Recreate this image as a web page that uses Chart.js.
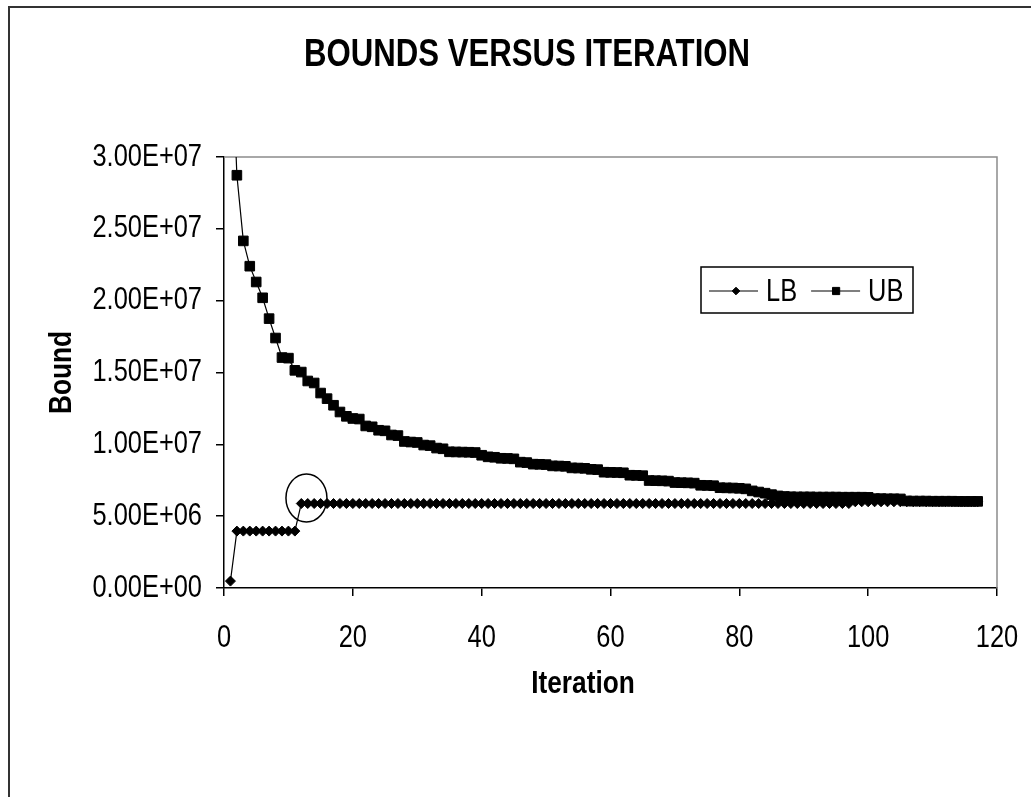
<!DOCTYPE html>
<html>
<head>
<meta charset="utf-8">
<title>Bounds versus iteration</title>
<script src="https://cdn.jsdelivr.net/npm/chart.js@4.4.1/dist/chart.umd.min.js"></script>
<style>
  html, body { margin: 0; padding: 0; background: #fff; overflow: hidden; }
  #frame { position: absolute; left: 8px; top: 6px; width: 1200px; height: 1000px;
           border-left: 2px solid #333; border-top: 2px solid #333; }
  #wrap { position: absolute; left: 0; top: 0; width: 1031px; height: 797px; }
</style>
</head>
<body>
<div id="frame"></div>
<div id="wrap"><canvas id="boundsChart" width="1031" height="797"></canvas></div>
<script>
// Lower / upper bound per iteration of the decomposition run.
const iterations = [
  1, 2, 3, 4, 5, 6, 7, 8, 9, 10,
  11, 12, 13, 14, 15, 16, 17, 18, 19, 20,
  21, 22, 23, 24, 25, 26, 27, 28, 29, 30,
  31, 32, 33, 34, 35, 36, 37, 38, 39, 40,
  41, 42, 43, 44, 45, 46, 47, 48, 49, 50,
  51, 52, 53, 54, 55, 56, 57, 58, 59, 60,
  61, 62, 63, 64, 65, 66, 67, 68, 69, 70,
  71, 72, 73, 74, 75, 76, 77, 78, 79, 80,
  81, 82, 83, 84, 85, 86, 87, 88, 89, 90,
  91, 92, 93, 94, 95, 96, 97, 98, 99, 100,
  101, 102, 103, 104, 105, 106, 107, 108, 109, 110,
  111, 112, 113, 114, 115, 116, 117
];

const lowerBound = [
  4.8e5, 3.96e6, 3.96e6, 3.96e6, 3.96e6, 3.96e6, 3.96e6, 3.96e6, 3.96e6, 3.96e6,
  3.96e6, 5.88e6, 5.88e6, 5.88e6, 5.88e6, 5.88e6, 5.88e6, 5.88e6, 5.88e6, 5.88e6,
  5.88e6, 5.88e6, 5.88e6, 5.88e6, 5.88e6, 5.88e6, 5.88e6, 5.88e6, 5.88e6, 5.88e6,
  5.88e6, 5.88e6, 5.88e6, 5.88e6, 5.88e6, 5.88e6, 5.88e6, 5.88e6, 5.88e6, 5.88e6,
  5.88e6, 5.88e6, 5.88e6, 5.88e6, 5.88e6, 5.88e6, 5.88e6, 5.88e6, 5.88e6, 5.88e6,
  5.88e6, 5.88e6, 5.88e6, 5.88e6, 5.88e6, 5.88e6, 5.88e6, 5.88e6, 5.88e6, 5.88e6,
  5.88e6, 5.88e6, 5.88e6, 5.88e6, 5.88e6, 5.88e6, 5.88e6, 5.88e6, 5.88e6, 5.88e6,
  5.88e6, 5.88e6, 5.88e6, 5.88e6, 5.88e6, 5.88e6, 5.88e6, 5.88e6, 5.88e6, 5.88e6,
  5.88e6, 5.88e6, 5.88e6, 5.88e6, 5.88e6, 5.88e6, 5.88e6, 5.88e6, 5.88e6, 5.88e6,
  5.88e6, 5.88e6, 5.88e6, 5.88e6, 5.88e6, 5.88e6, 5.88e6, 6.00e6, 6.00e6, 6.00e6,
  6.00e6, 6.00e6, 6.00e6, 6.00e6, 6.00e6, 6.00e6, 6.00e6, 6.00e6, 6.00e6, 6.00e6,
  6.00e6, 6.00e6, 6.00e6, 6.00e6, 6.00e6, 6.00e6, 6.00e6
];

const upperBound = [
  4.00e7, 2.873e7, 2.416e7, 2.240e7, 2.130e7, 2.020e7, 1.875e7, 1.740e7, 1.604e7, 1.600e7,
  1.515e7, 1.503e7, 1.441e7, 1.427e7, 1.357e7, 1.318e7, 1.272e7, 1.225e7, 1.195e7, 1.180e7,
  1.176e7, 1.128e7, 1.122e7, 1.098e7, 1.094e7, 1.065e7, 1.061e7, 1.020e7, 1.016e7, 1.013e7,
  9.95e6, 9.91e6, 9.74e6, 9.69e6, 9.48e6, 9.47e6, 9.46e6, 9.45e6, 9.43e6, 9.24e6,
  9.13e6, 9.10e6, 9.03e6, 9.02e6, 8.99e6, 8.76e6, 8.73e6, 8.62e6, 8.61e6, 8.59e6,
  8.50e6, 8.49e6, 8.47e6, 8.36e6, 8.35e6, 8.33e6, 8.26e6, 8.24e6, 8.06e6, 8.05e6,
  8.04e6, 8.02e6, 7.85e6, 7.84e6, 7.82e6, 7.48e6, 7.47e6, 7.46e6, 7.44e6, 7.34e6,
  7.33e6, 7.32e6, 7.30e6, 7.15e6, 7.14e6, 7.12e6, 6.98e6, 6.97e6, 6.96e6, 6.94e6,
  6.90e6, 6.76e6, 6.68e6, 6.60e6, 6.50e6, 6.41e6, 6.37e6, 6.35e6, 6.34e6, 6.34e6,
  6.34e6, 6.33e6, 6.33e6, 6.33e6, 6.33e6, 6.32e6, 6.32e6, 6.32e6, 6.32e6, 6.31e6,
  6.22e6, 6.22e6, 6.21e6, 6.21e6, 6.20e6, 6.06e6, 6.05e6, 6.05e6, 6.05e6, 6.04e6,
  6.04e6, 6.04e6, 6.04e6, 6.03e6, 6.03e6, 6.03e6, 6.03e6
];

const xTickValues = [0, 20, 40, 60, 80, 100, 120];
const yTickValues = [0, 5e6, 1e7, 1.5e7, 2e7, 2.5e7, 3e7];

const titleText = "BOUNDS VERSUS ITERATION";
const xAxisLabel = "Iteration";
// ring drawn round the jump of the lower bound (iteration, bound)
const jumpNote = [12.8, 6.27e6];

const FONT = '"Liberation Sans", Arial, sans-serif';
const NARROW = 0.82; // condensed lettering, as in the printed figure

function sci(v) {
  if (v === 0) return "0.00E+00";
  const exp = Math.floor(Math.log10(Math.abs(v)) + 1e-9);
  const mant = v / Math.pow(10, exp);
  return mant.toFixed(2) + "E" + (exp < 0 ? "-" : "+") + String(Math.abs(exp)).padStart(2, "0");
}

function toPoints(values) {
  return iterations.map((it, i) => ({ x: it, y: values[i] }));
}

// squeeze all text drawn on this context horizontally (no narrow face installed)
function narrowText(ctx) {
  const fill = ctx.fillText.bind(ctx);
  const measure = ctx.measureText.bind(ctx);
  ctx.fillText = function (text, x, y, maxWidth) {
    this.save();
    this.translate(x, y);
    this.scale(NARROW, 1);
    if (maxWidth !== undefined) fill(text, 0, 0, maxWidth / NARROW);
    else fill(text, 0, 0);
    this.restore();
  };
  ctx.measureText = function (text) {
    const m = measure(text);
    return {
      width: m.width * NARROW,
      actualBoundingBoxLeft: m.actualBoundingBoxLeft * NARROW,
      actualBoundingBoxRight: m.actualBoundingBoxRight * NARROW,
      actualBoundingBoxAscent: m.actualBoundingBoxAscent,
      actualBoundingBoxDescent: m.actualBoundingBoxDescent
    };
  };
}

function diamond(ctx, x, y, r) {
  ctx.beginPath();
  ctx.moveTo(x - r, y); ctx.lineTo(x, y - r); ctx.lineTo(x + r, y); ctx.lineTo(x, y + r);
  ctx.closePath(); ctx.fill(); ctx.stroke();
}

function square(ctx, x, y, half) {
  ctx.beginPath();
  ctx.rect(x - half, y - half, half * 2, half * 2);
  ctx.fill(); ctx.stroke();
}

// chart title and the x axis caption (placed like the printed figure, left of the plot centre)
const captions = {
  id: "captions",
  afterDraw(chart) {
    const ctx = chart.ctx;
    ctx.save();
    ctx.fillStyle = "#000";
    ctx.textAlign = "center";
    ctx.textBaseline = "middle";
    ctx.font = "bold 38px " + FONT;
    ctx.fillText(titleText, 527, 56);
    ctx.font = "bold 32px " + FONT;
    ctx.fillText(xAxisLabel, 583, 684);
    ctx.restore();
  }
};

// gray top/right edges of the plot area (left and bottom are the axes)
const plotFrame = {
  id: "plotFrame",
  beforeDatasetsDraw(chart) {
    const { ctx, chartArea: a } = chart;
    ctx.save();
    ctx.strokeStyle = "#8c8c8c";
    ctx.lineWidth = 1.5;
    ctx.beginPath();
    ctx.moveTo(a.left, a.top); ctx.lineTo(a.right, a.top); ctx.lineTo(a.right, a.bottom);
    ctx.stroke();
    ctx.restore();
  }
};

const jumpRing = {
  id: "jumpRing",
  afterDatasetsDraw(chart) {
    const { ctx, scales } = chart;
    const cx = scales.x.getPixelForValue(jumpNote[0]);
    const cy = scales.y.getPixelForValue(jumpNote[1]);
    ctx.save();
    ctx.strokeStyle = "#000";
    ctx.lineWidth = 1.5;
    ctx.beginPath();
    ctx.ellipse(cx, cy, 20.5, 24, 0, 0, Math.PI * 2);
    ctx.stroke();
    ctx.restore();
  }
};

const boxLegend = {
  id: "boxLegend",
  afterDraw(chart) {
    const ctx = chart.ctx;
    const bx = 701, by = 267, bw = 212, bh = 46;
    const cy = by + bh / 2 + 1;
    ctx.save();
    ctx.fillStyle = "#fff";
    ctx.fillRect(bx, by, bw, bh);
    ctx.strokeStyle = "#000";
    ctx.lineWidth = 1.5;
    ctx.strokeRect(bx, by, bw, bh);
    ctx.font = "31px " + FONT;
    ctx.textBaseline = "middle";
    let x = bx + 8;
    chart.data.datasets.forEach(ds => {
      ctx.strokeStyle = "#000";
      ctx.fillStyle = "#000";
      ctx.lineWidth = 1.2;
      ctx.beginPath(); ctx.moveTo(x, cy); ctx.lineTo(x + 49, cy); ctx.stroke();
      ctx.lineWidth = 1;
      if (ds.pointStyle === "rectRot") diamond(ctx, x + 27, cy, 3.8);
      else square(ctx, x + 25, cy, 3.6);
      ctx.fillText(ds.label, x + 57, cy + 1);
      x += 57 + ctx.measureText(ds.label).width + 14;
    });
    ctx.restore();
  }
};

const canvas = document.getElementById("boundsChart");
narrowText(canvas.getContext("2d"));

new Chart(canvas, {
  type: "line",
  data: {
    datasets: [
      {
        label: "LB",
        data: toPoints(lowerBound),
        borderColor: "#000",
        backgroundColor: "#000",
        borderWidth: 1.2,
        pointStyle: "rectRot",
        pointRadius: 5,
        pointBorderWidth: 1,
        tension: 0
      },
      {
        label: "UB",
        data: toPoints(upperBound),
        borderColor: "#000",
        backgroundColor: "#000",
        borderWidth: 1.2,
        pointStyle: "rect",
        pointRadius: 6.8,
        pointBorderWidth: 1,
        tension: 0
      }
    ]
  },
  options: {
    responsive: false,
    animation: false,
    layout: { padding: { left: 0, right: 34, top: 157, bottom: 0 } },
    plugins: { legend: { display: false }, tooltip: { enabled: false }, title: { display: false } },
    scales: {
      x: {
        type: "linear",
        min: 0,
        max: 120,
        afterBuildTicks: axis => { axis.ticks = xTickValues.map(v => ({ value: v })); },
        afterFit: axis => {
          axis.height = 209;
          // end labels fit inside the side margins, no extra room needed
          axis.paddingLeft = 0;
          axis.paddingRight = 0;
        },
        grid: { display: true, drawOnChartArea: false, drawTicks: true, tickLength: 8, color: "#000", lineWidth: 1.5 },
        border: { display: true, color: "#000", width: 1.5 },
        ticks: { color: "#000", font: { family: FONT, size: 31 }, padding: 24, maxRotation: 0 },
        title: { display: false }
      },
      y: {
        min: 0,
        max: 3e7,
        afterBuildTicks: axis => { axis.ticks = yTickValues.map(v => ({ value: v })); },
        afterFit: axis => { axis.width = 224; },
        grid: { display: true, drawOnChartArea: false, drawTicks: true, tickLength: 8, color: "#000", lineWidth: 1.5 },
        border: { display: true, color: "#000", width: 1.5 },
        ticks: { color: "#000", font: { family: FONT, size: 31 }, padding: 14, callback: v => sci(v) },
        title: { display: true, text: "Bound", color: "#000", font: { family: FONT, size: 32, weight: "bold" }, padding: { top: 43, bottom: 0 } }
      }
    }
  },
  plugins: [plotFrame, jumpRing, boxLegend, captions]
});
</script>
</body>
</html>
